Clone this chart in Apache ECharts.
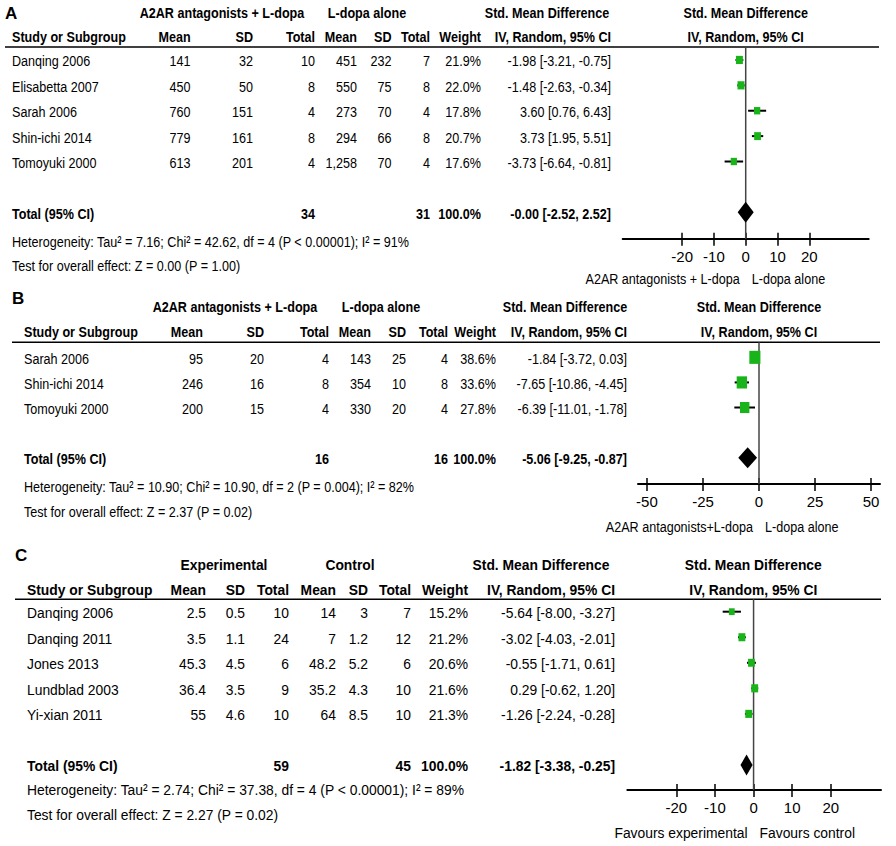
<!DOCTYPE html>
<html>
<head>
<meta charset="utf-8">
<script src="https://cdn.jsdelivr.net/npm/echarts@6/dist/echarts.min.js"></script>
<style>
  html, body { margin: 0; padding: 0; background: #fff; }
  #main { width: 896px; height: 846px; }
</style>
</head>
<body>
<div id="main"></div>
<script>
// ---------- data: panel A ----------
const studiesA = ['Danqing 2006', 'Elisabetta 2007', 'Sarah 2006', 'Shin-ichi 2014', 'Tomoyuki 2000'];
const expMeanA = [141, 450, 760, 779, 613];
const expSdA = [32, 50, 151, 161, 201];
const expNA = [10, 8, 4, 8, 4];
const ctlMeanA = [451, 550, 273, 294, 1258];
const ctlSdA = [232, 75, 70, 66, 70];
const ctlNA = [7, 8, 4, 8, 4];
const weightA = [21.9, 22.0, 17.8, 20.7, 17.6];
const smdA = [-1.98, -1.48, 3.60, 3.73, -3.73];
const lowA = [-3.21, -2.63, 0.76, 1.95, -6.64];
const highA = [-0.75, -0.34, 6.43, 5.51, -0.81];
const totalA = [34, 31, 100.0, -0.00, -2.52, 2.52]; // expN, ctlN, weight, smd, low, high
const groupsA = ['A2AR antagonists + L-dopa', 'L-dopa alone'];
const favoursA = ['A2AR antagonists + L-dopa', 'L-dopa alone'];
const ticksA = [-20, -10, 0, 10, 20];
const hetA = 'Heterogeneity: Tau² = 7.16; Chi² = 42.62, df = 4 (P < 0.00001); I² = 91%';
const testA = 'Test for overall effect: Z = 0.00 (P = 1.00)';

// ---------- data: panel B ----------
const studiesB = ['Sarah 2006', 'Shin-ichi 2014', 'Tomoyuki 2000'];
const expMeanB = [95, 246, 200];
const expSdB = [20, 16, 15];
const expNB = [4, 8, 4];
const ctlMeanB = [143, 354, 330];
const ctlSdB = [25, 10, 20];
const ctlNB = [4, 8, 4];
const weightB = [38.6, 33.6, 27.8];
const smdB = [-1.84, -7.65, -6.39];
const lowB = [-3.72, -10.86, -11.01];
const highB = [0.03, -4.45, -1.78];
const totalB = [16, 16, 100.0, -5.06, -9.25, -0.87];
const groupsB = ['A2AR antagonists + L-dopa', 'L-dopa alone'];
const favoursB = ['A2AR antagonists+L-dopa', 'L-dopa alone'];
const ticksB = [-50, -25, 0, 25, 50];
const hetB = 'Heterogeneity: Tau² = 10.90; Chi² = 10.90, df = 2 (P = 0.004); I² = 82%';
const testB = 'Test for overall effect: Z = 2.37 (P = 0.02)';

// ---------- data: panel C ----------
const studiesC = ['Danqing 2006', 'Danqing 2011', 'Jones 2013', 'Lundblad 2003', 'Yi-xian 2011'];
const expMeanC = [2.5, 3.5, 45.3, 36.4, 55];
const expSdC = [0.5, 1.1, 4.5, 3.5, 4.6];
const expNC = [10, 24, 6, 9, 10];
const ctlMeanC = [14, 7, 48.2, 35.2, 64];
const ctlSdC = [3, 1.2, 5.2, 4.3, 8.5];
const ctlNC = [7, 12, 6, 10, 10];
const weightC = [15.2, 21.2, 20.6, 21.6, 21.3];
const smdC = [-5.64, -3.02, -0.55, 0.29, -1.26];
const lowC = [-8.00, -4.03, -1.71, -0.62, -2.24];
const highC = [-3.27, -2.01, 0.61, 1.20, -0.28];
const totalC = [59, 45, 100.0, -1.82, -3.38, -0.25];
const groupsC = ['Experimental', 'Control'];
const favoursC = ['Favours experimental', 'Favours control'];
const ticksC = [-20, -10, 0, 10, 20];
const hetC = 'Heterogeneity: Tau² = 2.74; Chi² = 37.38, df = 4 (P < 0.00001); I² = 89%';
const testC = 'Test for overall effect: Z = 2.27 (P = 0.02)';

const panels = [
  { tag: 'A', studies: studiesA, expMean: expMeanA, expSd: expSdA, expN: expNA, ctlMean: ctlMeanA, ctlSd: ctlSdA, ctlN: ctlNA,
    weight: weightA, smd: smdA, low: lowA, high: highA, total: totalA, groups: groupsA, favours: favoursA, ticks: ticksA, het: hetA, test: testA },
  { tag: 'B', studies: studiesB, expMean: expMeanB, expSd: expSdB, expN: expNB, ctlMean: ctlMeanB, ctlSd: ctlSdB, ctlN: ctlNB,
    weight: weightB, smd: smdB, low: lowB, high: highB, total: totalB, groups: groupsB, favours: favoursB, ticks: ticksB, het: hetB, test: testB },
  { tag: 'C', studies: studiesC, expMean: expMeanC, expSd: expSdC, expN: expNC, ctlMean: ctlMeanC, ctlSd: ctlSdC, ctlN: ctlNC,
    weight: weightC, smd: smdC, low: lowC, high: highC, total: totalC, groups: groupsC, favours: favoursC, ticks: ticksC, het: hetC, test: testC }
];

// ---------- layout (pixels) ----------
// stretch: panel C of the figure is drawn a bit wider than A and B
const layouts = [
  { plotL: 622.7, plotR: 868.7, top: 47, bottom: 238.7, xmin: -38.7, xmax: 38.7, ymin: -0.51, ymax: 7.04, sq: 1.75, stretch: 0.99,
    cols: [190.6, 253, 315, 357, 391.5, 430, 481, 611], studyX: 12, line: [5, 879],
    tagY: 13, h1: 13, h2: 37, grp: [222, 367], smdX: 547, plotX: 745.7, het: 242, test: 266, fav: 279 },
  { plotL: 638, plotR: 880, top: 342.3, bottom: 484, xmin: -54, xmax: 54, ymin: -0.6, ymax: 5.05, sq: 2.1, stretch: 0.99,
    cols: [203, 264, 329, 371, 406, 448, 496, 627], studyX: 24, line: [12, 880],
    tagY: 298, h1: 307, h2: 332, grp: [235, 381], smdX: 565, plotX: 759, het: 487, test: 512, fav: 527 },
  { plotL: 627.3, plotR: 881, top: 599.3, bottom: 790, xmin: -32.7, xmax: 33, ymin: -0.485, ymax: 6.98, sq: 1.75, stretch: 1.09,
    cols: [206, 245, 289, 336, 368, 411, 468, 615], studyX: 27, line: [15, 881],
    tagY: 555, h1: 565, h2: 590, grp: [224, 350], smdX: 541, plotX: 753.3, het: 790, test: 815, fav: 833 }
];

// Arial Narrow look-alike: use Liberation Sans Narrow if present, else squeeze Liberation Sans
function hasFont(name) {
  const ctx = document.createElement('canvas').getContext('2d');
  const s = 'abcdefghijklm NOPQRS 0123456789';
  ctx.font = '40px monospace';
  const w0 = ctx.measureText(s).width;
  ctx.font = '40px "' + name + '", monospace';
  return ctx.measureText(s).width !== w0;
}
const NARROW = hasFont('Liberation Sans Narrow');
const FONT = NARROW ? 'Liberation Sans Narrow' : 'Liberation Sans';
const SX = NARROW ? 1 : 0.82;
const FS = 15.5;
const GREEN = '#19b419';

const fmtNum = v => v.toLocaleString('en-US');
const fmt2 = v => ((v < 0 || Object.is(v, -0)) ? '-' : '') + Math.abs(v).toFixed(2);
const ciText = (e, l, h) => fmt2(e) + ' [' + fmt2(l) + ', ' + fmt2(h) + ']';

const chart = echarts.init(document.getElementById('main'), null, { renderer: 'svg' });

const grid = [], xAxis = [], yAxis = [], series = [];
panels.forEach((p, k) => {
  const L = layouts[k];
  grid.push({ left: L.plotL, top: L.top, width: L.plotR - L.plotL, height: L.bottom - L.top, containLabel: false });
  xAxis.push({
    type: 'value', gridIndex: k, min: L.xmin, max: L.xmax, position: 'bottom',
    axisLine: { show: true, onZero: false, lineStyle: { color: '#000', width: 2 } },
    axisTick: { show: true, customValues: p.ticks, length: 7, lineStyle: { color: '#000', width: 1.5 } },
    axisLabel: { show: true, customValues: p.ticks, margin: 10, color: '#000', fontSize: 15, fontFamily: FONT },
    splitLine: { show: false }
  });
  // second axis only to get the tick marks crossing the axis line
  xAxis.push({
    type: 'value', gridIndex: k, min: L.xmin, max: L.xmax, position: 'bottom',
    axisLine: { show: false, onZero: false },
    axisTick: { show: true, inside: true, customValues: p.ticks, length: 6, lineStyle: { color: '#000', width: 1.5 } },
    axisLabel: { show: false },
    splitLine: { show: false }
  });
  yAxis.push({ type: 'value', gridIndex: k, min: L.ymin, max: L.ymax, inverse: true, show: false, splitLine: { show: false } });

  const n = p.studies.length;
  // zero line
  series.push({
    type: 'line', xAxisIndex: 2 * k, yAxisIndex: k, z: 1, symbol: 'none', silent: true,
    lineStyle: { color: '#444', width: 1.5 },
    data: [[0, L.ymin], [0, L.ymax]]
  });
  // study CIs and weight squares
  series.push({
    type: 'custom', xAxisIndex: 2 * k, yAxisIndex: k, z: 3, silent: true,
    data: p.studies.map((s, i) => [p.smd[i], i, p.low[i], p.high[i], p.weight[i]]),
    encode: { x: [0, 2, 3], y: 1 },
    renderItem: (params, api) => {
      const c = api.coord([api.value(0), api.value(1)]);
      const a = api.coord([api.value(2), api.value(1)]);
      const b = api.coord([api.value(3), api.value(1)]);
      const h = L.sq * Math.sqrt(api.value(4));
      const w = h * 0.85;
      return {
        type: 'group',
        children: [
          { type: 'line', shape: { x1: a[0], y1: a[1], x2: b[0], y2: b[1] }, style: { stroke: '#000', lineWidth: 2 } },
          { type: 'rect', shape: { x: c[0] - w / 2, y: c[1] - h / 2, width: w, height: h }, style: { fill: GREEN } }
        ]
      };
    }
  });
  // pooled diamond
  series.push({
    type: 'custom', xAxisIndex: 2 * k, yAxisIndex: k, z: 4, silent: true,
    data: [[p.total[3], n + 1, p.total[4], p.total[5]]],
    encode: { x: [0, 2, 3], y: 1 },
    renderItem: (params, api) => {
      const c = api.coord([api.value(0), api.value(1)]);
      const a = api.coord([api.value(2), api.value(1)]);
      const b = api.coord([api.value(3), api.value(1)]);
      const hh = 10.5;
      return {
        type: 'polygon',
        shape: { points: [[a[0], a[1]], [c[0], c[1] - hh], [b[0], b[1]], [c[0], c[1] + hh]] },
        style: { fill: '#000' }
      };
    }
  });
});

chart.setOption({ animation: false, backgroundColor: '#fff', grid, xAxis, yAxis, series });

// ---------- table text ----------
function txt(x, y, s, align, bold, sx, size, plain) {
  return {
    type: 'text', x: x, y: y, scaleX: plain ? 1 : SX * sx, silent: true,
    style: {
      text: s, x: 0, y: 0, fill: '#000',
      fontSize: size || FS, fontFamily: plain ? 'Liberation Sans' : FONT, fontWeight: bold ? 'bold' : 'normal',
      align: align || 'left', textAlign: align || 'left', verticalAlign: 'middle', textVerticalAlign: 'middle'
    }
  };
}

const graphics = [];
panels.forEach((p, k) => {
  const L = layouts[k];
  const C = L.cols;
  const s = L.stretch;
  const rowY = i => chart.convertToPixel({ yAxisIndex: k }, i) + 1;
  graphics.push(txt(L.line[0], L.tagY, p.tag, 'left', true, 1, 17, true));
  graphics.push(txt(L.grp[0], L.h1, p.groups[0], 'center', true, s));
  graphics.push(txt(L.grp[1], L.h1, p.groups[1], 'center', true, s));
  graphics.push(txt(L.smdX, L.h1, 'Std. Mean Difference', 'center', true, s));
  graphics.push(txt(L.plotX, L.h1, 'Std. Mean Difference', 'center', true, s));
  graphics.push(txt(L.studyX, L.h2, 'Study or Subgroup', 'left', true, s));
  ['Mean', 'SD', 'Total', 'Mean', 'SD', 'Total', 'Weight', 'IV, Random, 95% CI'].forEach((h, j) => {
    graphics.push(txt(C[j], L.h2, h, 'right', true, s));
  });
  graphics.push(txt(L.plotX, L.h2, 'IV, Random, 95% CI', 'center', true, s));
  graphics.push({
    type: 'line', silent: true,
    shape: { x1: L.line[0], y1: L.top, x2: L.line[1], y2: L.top },
    style: { stroke: '#000', lineWidth: 1.6 }
  });
  p.studies.forEach((name, i) => {
    const y = rowY(i);
    graphics.push(txt(L.studyX, y, name, 'left', false, s));
    const cells = [fmtNum(p.expMean[i]), fmtNum(p.expSd[i]), String(p.expN[i]),
      fmtNum(p.ctlMean[i]), fmtNum(p.ctlSd[i]), String(p.ctlN[i]),
      p.weight[i].toFixed(1) + '%', ciText(p.smd[i], p.low[i], p.high[i])];
    cells.forEach((c, j) => graphics.push(txt(C[j], y, c, 'right', false, s)));
  });
  const ty = rowY(p.studies.length + 1);
  graphics.push(txt(L.studyX, ty, 'Total (95% CI)', 'left', true, s));
  graphics.push(txt(C[2], ty, String(p.total[0]), 'right', true, s));
  graphics.push(txt(C[5], ty, String(p.total[1]), 'right', true, s));
  graphics.push(txt(C[6], ty, p.total[2].toFixed(1) + '%', 'right', true, s));
  graphics.push(txt(C[7], ty, ciText(p.total[3], p.total[4], p.total[5]), 'right', true, s));
  graphics.push(txt(L.studyX, L.het, p.het, 'left', false, s));
  graphics.push(txt(L.studyX, L.test, p.test, 'left', false, s));
  const zx = chart.convertToPixel({ xAxisIndex: 2 * k }, 0);
  graphics.push(txt(zx - 6, L.fav, p.favours[0], 'right', false, s));
  graphics.push(txt(zx + 6, L.fav, p.favours[1], 'left', false, s));
});

chart.setOption({ graphic: { elements: graphics } });
</script>
</body>
</html>
